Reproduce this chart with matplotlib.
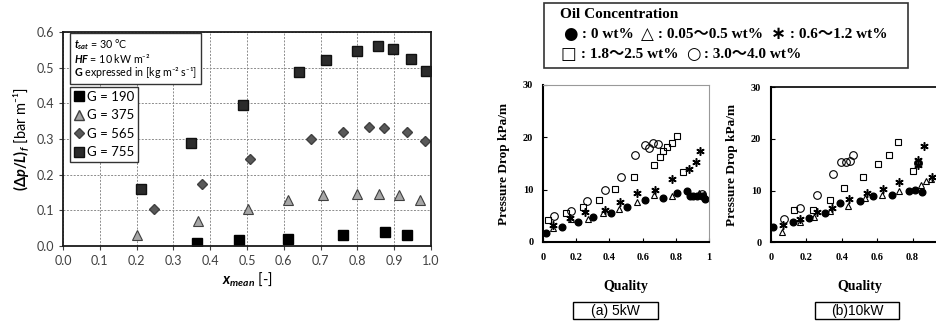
import numpy as np
import matplotlib
matplotlib.use("Agg")
import matplotlib.pyplot as plt
from matplotlib.lines import Line2D
from matplotlib.patches import Rectangle
from matplotlib.text import Annotation

# ---- frictional pressure gradient vs mean quality (left) ----
x190 = [0.363, 0.478, 0.612, 0.762, 0.875, 0.936]
y190 = [0.008, 0.016, 0.020, 0.030, 0.038, 0.032]
x375 = [0.200, 0.368, 0.504, 0.612, 0.706, 0.798, 0.859, 0.912, 0.969]
y375 = [0.030, 0.070, 0.105, 0.128, 0.142, 0.147, 0.147, 0.142, 0.130]
x565 = [0.248, 0.379, 0.508, 0.674, 0.760, 0.832, 0.873, 0.934, 0.984]
y565 = [0.105, 0.175, 0.243, 0.299, 0.320, 0.333, 0.331, 0.320, 0.294]
x755 = [0.211, 0.347, 0.488, 0.642, 0.715, 0.800, 0.857, 0.896, 0.945, 0.985]
y755 = [0.161, 0.288, 0.396, 0.488, 0.522, 0.548, 0.560, 0.551, 0.525, 0.491]

# ---- pressure drop vs quality, (a) 5kW ----
a_q0 = [0.016, 0.114, 0.210, 0.300, 0.410, 0.506, 0.614, 0.720, 0.805, 0.866, 0.886, 0.905, 0.930, 0.956, 0.976]
a_p0 = [1.7, 2.8, 3.8, 4.8, 5.6, 6.6, 8.0, 8.5, 9.4, 9.8, 8.8, 8.8, 8.8, 8.7, 8.3]
a_q1 = [0.058, 0.167, 0.273, 0.363, 0.460, 0.568, 0.669, 0.775, 0.940, 0.970]
a_p1 = [2.6, 4.3, 4.3, 5.6, 6.4, 7.7, 9.0, 8.7, 9.3, 9.1]
a_q2 = [0.058, 0.160, 0.253, 0.373, 0.464, 0.564, 0.675, 0.775, 0.880, 0.920, 0.946]
a_p2 = [3.2, 4.6, 5.8, 6.2, 7.7, 9.3, 9.9, 12.0, 13.9, 15.3, 17.4]
a_q3 = [0.032, 0.137, 0.239, 0.339, 0.434, 0.548, 0.669, 0.705, 0.721, 0.745, 0.775, 0.805, 0.845]
a_p3 = [4.2, 5.6, 6.6, 8.0, 10.1, 12.5, 14.7, 16.2, 17.3, 18.1, 18.9, 20.3, 13.4]
a_q4 = [0.066, 0.167, 0.267, 0.373, 0.468, 0.554, 0.614, 0.640, 0.665, 0.695, 0.960]
a_p4 = [5.0, 5.9, 7.9, 9.9, 12.4, 16.6, 18.5, 18.0, 18.9, 18.7, 9.2]

# ---- pressure drop vs quality, (b) 10kW ----
b_q0 = [0.013, 0.124, 0.214, 0.305, 0.388, 0.503, 0.578, 0.682, 0.781, 0.813, 0.856]
b_p0 = [3.0, 4.0, 4.7, 5.7, 7.6, 8.0, 9.0, 9.2, 10.0, 10.2, 9.7]
b_q1 = [0.060, 0.164, 0.244, 0.333, 0.437, 0.533, 0.627, 0.721, 0.845, 0.875, 0.903]
b_p1 = [2.0, 3.9, 4.8, 6.1, 7.0, 8.6, 9.2, 9.9, 11.0, 11.9, 12.3]
b_q2 = [0.066, 0.164, 0.258, 0.343, 0.441, 0.540, 0.631, 0.725, 0.828, 0.828, 0.867, 0.908]
b_p2 = [3.3, 4.4, 5.9, 6.6, 8.3, 9.5, 10.3, 11.7, 15.0, 16.0, 18.6, 12.6]
b_q3 = [0.130, 0.235, 0.333, 0.412, 0.522, 0.606, 0.666, 0.719, 0.804]
b_p3 = [6.3, 6.3, 8.1, 10.4, 12.6, 15.2, 16.8, 19.4, 13.8]
b_q4 = [0.072, 0.166, 0.258, 0.348, 0.395, 0.423, 0.448, 0.461, 0.828]
b_p4 = [4.5, 6.7, 9.2, 13.3, 15.5, 15.5, 15.7, 16.9, 15.4]

sans = ["Lato", "DejaVu Sans"]
serif = ["Liberation Serif", "DejaVu Serif"]
plt.rcParams["mathtext.fontset"] = "custom"
plt.rcParams["mathtext.rm"] = "Lato:bold"
plt.rcParams["mathtext.it"] = "Lato:italic:bold"
plt.rcParams["mathtext.bf"] = "Lato:bold"

fig = plt.figure(figsize=(9.36, 3.24), dpi=100)

# left chart
ax = fig.add_axes([0.0673, 0.2407, 0.3932, 0.6605])
ax.plot(x190, y190, "s", ms=7, mfc="black", mec="black", ls="none")
ax.plot(x375, y375, "^", ms=6.5, mfc="#a6a6a6", mec="#404040", mew=0.8, ls="none")
ax.plot(x565, y565, "D", ms=5, mfc="#595959", mec="#404040", ls="none")
ax.plot(x755, y755, "s", ms=7.5, mfc="#2b2b2b", mec="#111111", ls="none")
ax.set_xlim(0, 1)
ax.set_ylim(0, 0.6)
ax.set_xticks(np.arange(0, 1.01, 0.1))
ax.set_yticks(np.arange(0, 0.61, 0.1))
ax.xaxis.set_major_formatter(plt.FormatStrFormatter("%.1f"))
ax.yaxis.set_major_formatter(plt.FormatStrFormatter("%.1f"))
ax.grid(True, ls=(0, (2, 1.5)), lw=0.7, color="#8c8c8c")
ax.tick_params(direction="out", length=3, width=0.8, labelsize=9, labelcolor="#404040", color="#404040")
for lab in ax.get_xticklabels() + ax.get_yticklabels():
    lab.set_family(sans)
for s in ax.spines.values():
    s.set_linewidth(1.3)
    s.set_color("#1a1a1a")
ax.set_xlabel("$x_{mean}$ [-]", family=sans, fontsize=10.5, labelpad=2)
ax.set_ylabel("$(\\Delta p/L)_f$ [bar m⁻¹]", family=sans, fontsize=10.5, labelpad=4)

ax.text(0.03, 0.975, "$t_{sat}$ = 30 °C\n$HF$ = 10 kW m⁻²\n$\\mathbf{G}$ expressed in [kg m⁻² s⁻¹]",
        transform=ax.transAxes, ha="left", va="top", fontsize=7.7, family=sans, linespacing=1.0,
        bbox=dict(boxstyle="square,pad=0.4", fc="white", ec="#333333", lw=1))

handles = [
    Line2D([], [], marker="s", ms=7, mfc="black", mec="black", ls="none"),
    Line2D([], [], marker="^", ms=6.5, mfc="#a6a6a6", mec="#404040", ls="none"),
    Line2D([], [], marker="D", ms=5, mfc="#595959", mec="#404040", ls="none"),
    Line2D([], [], marker="s", ms=7.5, mfc="#2b2b2b", mec="#111111", ls="none"),
]
leg = ax.legend(handles, ["G = 190", "G = 375", "G = 565", "G = 755"],
                loc="upper left", bbox_to_anchor=(0.019, 0.745), borderaxespad=0,
                prop=dict(family=sans, size=9.5), handlelength=0.8, handletextpad=0.2,
                labelspacing=0.5, borderpad=0.3, fancybox=False, framealpha=1,
                edgecolor="#333333")
leg.get_frame().set_linewidth(1)


def quality_panel(rect, series, top_color, xt):
    p = fig.add_axes(rect)
    (q0, d0), (q1, d1), (q2, d2), (q3, d3), (q4, d4) = series
    p.plot(q0, d0, "o", ms=4.8, mfc="black", mec="black", ls="none")
    p.plot(q1, d1, "^", ms=5, mfc="none", mec="black", mew=0.8, ls="none")
    p.plot(q2, d2, marker=(6, 2, 0), ms=6, mec="black", mew=1.1, ls="none")
    p.plot(q3, d3, "s", ms=5, mfc="none", mec="black", mew=0.8, ls="none")
    p.plot(q4, d4, "o", ms=5.5, mfc="none", mec="black", mew=0.8, ls="none")
    p.set_xlim(0, 1)
    p.set_ylim(0, 30)
    p.set_xticks(xt)
    p.set_xticklabels(["%g" % v for v in xt])
    p.set_yticks([0, 10, 20, 30])
    p.tick_params(direction="in", length=3, width=0.8, labelsize=7.5, pad=8)
    p.tick_params(axis="y", pad=7)
    for lab in p.get_xticklabels() + p.get_yticklabels():
        lab.set_family(serif)
        lab.set_fontweight("bold")
    p.spines["left"].set_linewidth(1.5)
    p.spines["bottom"].set_linewidth(1.5)
    p.spines["top"].set_color(top_color)
    p.spines["right"].set_color("#999999")
    p.spines["top"].set_linewidth(1.2 if top_color == "black" else 0.8)
    p.spines["right"].set_linewidth(0.8)
    p.set_xlabel("Quality", family=serif, fontweight="bold", fontsize=10, labelpad=13)
    p.set_ylabel("Pressure Drop kPa/m", family=serif, fontweight="bold", fontsize=9.5, labelpad=9)
    return p


quality_panel([0.5801, 0.2531, 0.1774, 0.4846],
              [(a_q0, a_p0), (a_q1, a_p1), (a_q2, a_p2), (a_q3, a_p3), (a_q4, a_p4)],
              "#999999", [0, 0.2, 0.4, 0.6, 0.8, 1])
quality_panel([0.8237, 0.2524, 0.1891, 0.4784],
              [(b_q0, b_p0), (b_q1, b_p1), (b_q2, b_p2), (b_q3, b_p3), (b_q4, b_p4)],
              "black", [0, 0.2, 0.4, 0.6, 0.8])

W, H = 936.0, 324.0
# oil concentration key
fig.patches.append(Rectangle((544 / W, 1 - 68 / H), 364 / W, 65 / H, transform=fig.transFigure,
                             fill=False, ec="#333333", lw=1.2))
key_font = ["Liberation Serif", "Noto Sans CJK JP"]
sym_font = ["DejaVu Sans"]
fig.text(560 / W, 1 - 15 / H, "Oil Concentration", family=key_font, fontweight="bold",
         fontsize=11, va="center", ha="left")


def key_line(x, y, parts):
    prev = None
    for txt, fam, size in parts:
        if prev is None:
            prev = fig.text(x, y, txt, family=fam, fontsize=size, fontweight="bold",
                            va="center", ha="left")
        else:
            prev = fig.add_artist(Annotation(txt, xy=(1, 0.5), xycoords=prev, family=fam,
                                             fontsize=size, fontweight="bold",
                                             va="center", ha="left"))


key_line(563 / W, 1 - 34 / H, [("●", sym_font, 12), (" : 0 wt%  ", key_font, 11),
                                ("△", sym_font, 12), (" : 0.05～0.5 wt%  ", key_font, 11),
                                ("∗", sym_font, 13), (" : 0.6～1.2 wt%", key_font, 11)])
key_line(561 / W, 1 - 54 / H, [("□", sym_font, 12), (" : 1.8～2.5 wt%  ", key_font, 11),
                                ("○", sym_font, 12), (" : 3.0～4.0 wt%", key_font, 11)])

# captions under the panels
for x0, x1, txt in [(573, 658, "(a) 5kW"), (815, 899, "(b)10kW")]:
    fig.patches.append(Rectangle((x0 / W, 1 - 319 / H), (x1 - x0) / W, 17 / H,
                                 transform=fig.transFigure, fill=False, ec="black", lw=1))
    fig.text((x0 + x1) / 2 / W, 1 - 310.5 / H, txt, family=["Liberation Sans", "DejaVu Sans"],
             fontsize=10, ha="center", va="center")

fig.savefig("out.png", dpi=100)
